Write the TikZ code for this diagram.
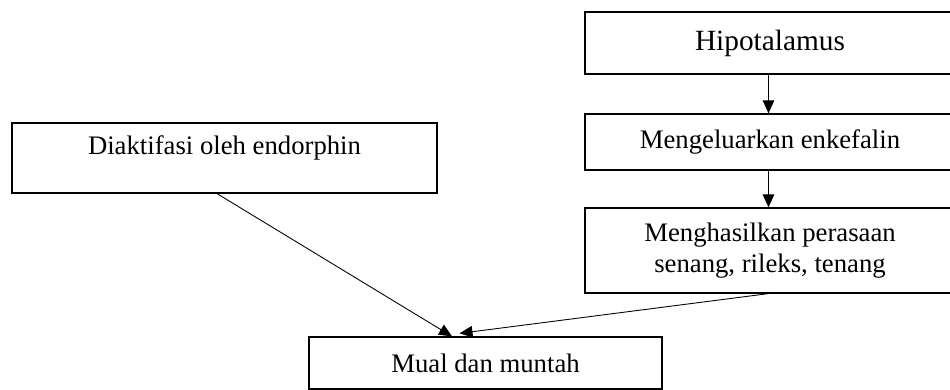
\documentclass[tikz,border=0pt]{standalone}
\usepackage{fontspec}
\setmainfont{Liberation Serif}
\usepackage{tikz}
\usetikzlibrary{arrows.meta}
\tikzstyle{box} = [draw, rectangle, line width=0.7pt, align=center,
minimum width=7.4cm, font=\fontsize{15.2}{17.6}\selectfont]
\tikzstyle{wide} = [draw, rectangle, line width=0.7pt, align=center,
minimum width=8.5cm, font=\fontsize{15.2}{17.6}\selectfont]

\begin{document}
\begin{tikzpicture}[auto, node distance=2cm,>={Triangle[length=2.6mm,width=2.3mm]}]
\useasboundingbox (0,0) rectangle (19,7.8);

\node [box,minimum height=1.24cm,font=\fontsize{16.7}{20}\selectfont] (hipo) at (15.4,6.94) {Hipotalamus};
\node [box,below of=hipo,node distance=1.98cm,minimum height=1.12cm] (enke) {Mengeluarkan enkefalin};
\node [box,below of=enke,node distance=2.17cm,minimum height=1.7cm] (rasa) {Menghasilkan perasaan\\senang, rileks, tenang};

\node [wide,inner ysep=0pt,text height=0.64cm,text depth=0.76cm] (endo) at (4.49,4.64) {Diaktifasi oleh endorphin};
\node [box,minimum width=7.06cm,minimum height=1.04cm] (mual) at (9.71,0.54) {Mual dan muntah};

\draw [->,line width=0.5pt] ([xshift=-0.03cm]hipo.south) -- ([xshift=-0.03cm]enke.north);
\draw [->,line width=0.5pt] ([xshift=-0.03cm]enke.south) -- ([xshift=-0.03cm]rasa.north);

\draw [->,line width=0.5pt] ([xshift=-0.15cm]endo.south) -- ([xshift=-0.67cm]mual.north);
\draw [->,line width=0.5pt] ([xshift=-0.03cm]rasa.south) -- ([xshift=-0.52cm,yshift=0.06cm]mual.north);
\end{tikzpicture}
\end{document}
